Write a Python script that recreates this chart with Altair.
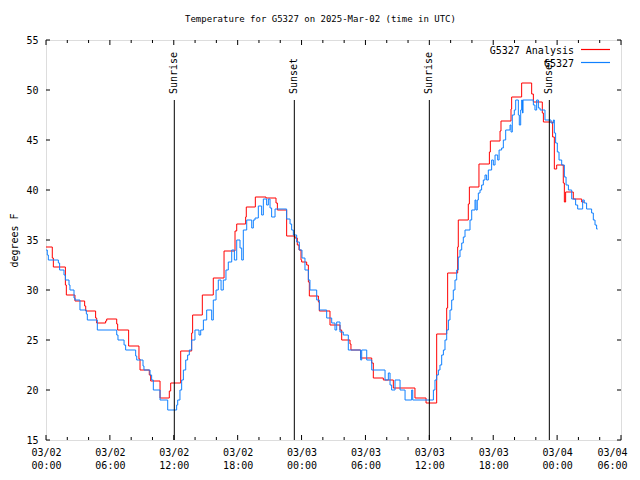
import altair as alt
import pandas as pd

# ---------------- data (hours since 2025-03-02 00:00 UTC, deg F) ----------------
RED_H = [0.0, 0.59, 0.69, 1.82, 1.91, 2.72, 3.63, 3.73, 4.66, 4.76, 5.60, 5.70, 6.64, 6.73,
         7.76, 8.73, 8.83, 9.70, 9.83, 10.71, 11.58, 11.71, 12.65, 13.68, 13.77, 14.68, 15.71,
         16.72, 17.75, 17.91, 18.75, 18.81, 19.66, 20.66, 21.60, 21.73, 22.60, 23.38, 23.60,
         23.76, 23.95, 24.01, 24.48, 24.64, 24.73, 25.58, 25.67, 26.67, 27.61, 27.77, 28.55,
         28.64, 29.55, 30.59, 30.74, 31.68, 32.62, 34.65, 35.69, 36.69, 37.63, 37.72, 38.66,
         38.72, 39.66, 39.76, 40.66, 41.64, 41.73, 42.64, 42.73, 43.67, 43.73, 44.67, 45.61,
         45.77, 46.61, 46.71, 47.58, 47.74, 47.96, 48.58, 48.68, 48.80, 49.52, 50.31, 50.55]
RED_T = [34.3, 33.2, 32.3, 30.5, 29.5, 28.9, 28.4, 27.9, 27.2, 26.7, 26.9, 27.1, 26.6, 26.0,
         24.4, 23.1, 22.0, 21.5, 20.9, 19.2, 19.9, 20.7, 23.9, 25.7, 27.5, 29.5, 31.2,
         33.9, 35.9, 36.6, 37.3, 38.3, 39.3, 39.2, 38.7, 38.0, 35.4, 35.2, 34.5,
         34.0, 33.0, 32.8, 32.5, 30.8, 29.4, 28.8, 27.9, 26.5, 26.0, 25.0, 24.6,
         24.0, 23.2, 22.7, 21.2, 21.0, 20.2, 19.2, 18.7, 25.6, 28.2, 31.7, 34.3,
         37.0, 38.6, 40.3, 42.6, 43.8, 44.9, 45.9, 46.9, 48.1, 49.3, 50.7, 49.6,
         48.8, 47.7, 46.8, 45.3, 42.1, 42.5, 40.7, 38.8, 39.8, 39.1, 38.8, 38.8]

BLUE_H = [0.00, 0.12, 0.22, 1.16, 1.28, 1.69, 1.82, 2.16, 2.25, 2.63, 2.72, 3.19, 3.79, 3.88,
          4.82, 6.64, 6.76, 7.33, 7.48, 8.42, 8.52, 9.11, 9.20, 9.77, 9.92, 10.08, 10.71, 11.43,
          12.27, 12.37, 12.58, 12.74, 12.90, 13.12, 13.30, 13.46, 13.68, 13.99, 14.37, 14.53,
          14.78, 15.09, 15.56, 15.71, 15.97, 16.18, 16.44, 16.65, 16.90, 17.12, 17.44, 17.69,
          17.91, 18.22, 18.38, 18.53, 18.85, 19.32, 19.47, 19.63, 19.94, 20.25, 20.41, 20.72,
          20.88, 21.04, 21.19, 21.51, 22.60, 22.92, 23.07, 23.23, 23.54, 23.79, 24.04, 24.32,
          24.64, 24.79, 25.42, 25.67, 26.36, 26.83, 27.14, 27.30, 27.61, 27.92, 28.39, 29.55,
          29.65, 30.12, 30.59, 31.84, 32.15, 32.31, 32.46, 32.78, 33.25, 33.72, 34.34, 34.44,
          36.38, 36.53, 36.69, 36.85, 37.00, 37.16, 37.32, 37.47, 37.63, 37.79, 37.94, 38.10,
          38.25, 38.41, 38.57, 38.72, 38.88, 39.04, 39.19, 39.35, 39.82, 39.98, 40.29, 40.38,
          40.50, 40.60, 40.76, 40.91, 41.07, 41.23, 41.38, 41.54, 41.85, 42.01, 42.17, 42.42,
          42.55, 42.79, 42.95, 43.17, 43.58, 43.67, 43.79, 43.98, 44.11, 44.36, 44.45, 44.58,
          44.67, 44.75, 44.80, 45.77, 45.92, 46.08, 46.24, 46.40, 46.86, 47.43, 47.65, 47.74,
          47.86, 48.02, 48.18, 48.43, 48.68, 48.84, 49.06, 49.37, 49.74, 49.93, 50.40, 50.55,
          50.77, 51.24, 51.40, 51.56, 51.71, 51.81]
BLUE_T = [34.0, 33.5, 33.0, 32.7, 32.0, 31.5, 31.0, 30.5, 30.0, 29.2, 29.0, 28.0, 27.6, 27.0,
          26.0, 25.5, 25.0, 24.5, 24.0, 23.4, 23.0, 22.4, 22.0, 21.5, 21.0, 20.0, 19.0, 18.0,
          18.5, 19.0, 20.0, 21.0, 22.0, 23.0, 23.5, 24.0, 25.0, 26.0, 25.5, 26.0,
          27.0, 28.0, 27.0, 29.0, 30.0, 31.0, 30.0, 31.0, 32.0, 32.8, 34.0, 33.0,
          35.0, 34.2, 33.0, 36.0, 37.0, 36.2, 37.0, 37.2, 38.4, 37.5, 39.1, 38.5,
          39.1, 38.2, 37.3, 38.1, 37.1, 36.6, 36.0, 35.5, 34.8, 34.0, 33.2, 32.0,
          31.0, 30.0, 29.0, 28.0, 27.2, 26.7, 26.0, 26.8, 25.8, 25.5, 24.0, 23.0,
          24.0, 23.0, 22.0, 21.0, 21.7, 20.5, 20.0, 21.0, 20.0, 19.0, 20.0, 19.0,
          20.0, 21.0, 21.5, 22.0, 22.5, 23.5, 24.0, 25.0, 26.0, 27.0, 28.0, 29.0,
          30.0, 31.0, 32.0, 33.3, 34.0, 34.7, 35.3, 36.0, 37.0, 38.0, 39.0, 38.0,
          39.0, 39.7, 40.0, 40.5, 41.0, 41.5, 41.0, 42.0, 43.0, 42.5, 43.5, 43.0,
          44.0, 44.2, 45.0, 46.0, 46.5, 45.8, 47.5, 48.0, 49.0, 47.5, 46.5, 48.0,
          49.0, 47.7, 49.0, 48.5, 48.0, 49.0, 48.2, 48.0, 47.0, 46.7, 47.0, 45.7,
          44.7, 43.8, 43.0, 42.5, 41.3, 40.5, 40.0, 39.1, 38.5, 38.1, 39.0, 38.7,
          38.1, 37.7, 37.0, 36.5, 36.1, 36.1]

EVENT_H = [12.05, 23.32, 36.0, 47.27]
EVENT_LABEL = ["Sunrise", "Sunset", "Sunrise", "Sunset"]

X_TICKS = [0, 6, 12, 18, 24, 30, 36, 42, 48, 54]
X_LABELS = [["03/02", "00:00"], ["03/02", "06:00"], ["03/02", "12:00"], ["03/02", "18:00"],
            ["03/03", "00:00"], ["03/03", "06:00"], ["03/03", "12:00"], ["03/03", "18:00"],
            ["03/04", "00:00"], ["03/04", "06:00"]]
X_MINOR = [2, 4, 8, 10, 14, 16, 20, 22, 26, 28, 32, 34, 38, 40, 44, 46, 50, 52]
Y_TICKS = [15, 20, 25, 30, 35, 40, 45, 50, 55]

TITLE = "Temperature for G5327 on 2025-Mar-02 (time in UTC)"
SERIES = ["G5327 Analysis", "G5327"]
COLORS = ["#ff0000", "#1080ff"]

# ---------------- chart ----------------
W, H = 575, 400
FONT = "DejaVu Sans Mono"

red_df = pd.DataFrame({"h": RED_H, "t": RED_T})
blue_df = pd.DataFrame({"h": BLUE_H, "t": BLUE_T})
ev_df = pd.DataFrame({"h": EVENT_H, "label": EVENT_LABEL})
xt_df = pd.DataFrame({"h": X_TICKS})
xm_df = pd.DataFrame({"h": X_MINOR})
yt_df = pd.DataFrame({"t": Y_TICKS})
one = pd.DataFrame({"a": [0]})

xs = alt.Scale(domain=[0, 54], nice=False, zero=False)
ys = alt.Scale(domain=[15, 55], nice=False, zero=False)

label_expr = "[" + ",".join("['%s','%s']" % (a, b) for a, b in X_LABELS) + "][round(datum.value/6)]"

x_axis = alt.Axis(values=X_TICKS, labelExpr=label_expr, ticks=False, domain=False, grid=False,
                  title=None, labelFont=FONT, labelFontSize=10, labelColor="black",
                  labelPadding=7, labelLineHeight=13, labelAngle=0, labelFlush=False,
                  labelOverlap=False, labelBound=False,
                  labelOffset={"condition": {"test": "datum.value == 54", "value": -9}, "value": 0})
y_axis = alt.Axis(values=Y_TICKS, ticks=False, domain=False, grid=False, title="degrees F",
                  labelFont=FONT, labelFontSize=10, labelColor="black", labelPadding=8,
                  titleFont=FONT, titleFontSize=10, titleFontWeight="normal", titleColor="black",
                  titlePadding=6, labelFlush=False, labelOverlap=False)

red = alt.Chart(red_df).mark_line(interpolate="step-after", color=COLORS[0], strokeWidth=1).encode(
    x=alt.X("h:Q", scale=xs, axis=x_axis),
    y=alt.Y("t:Q", scale=ys, axis=y_axis),
)
blue = alt.Chart(blue_df).mark_line(interpolate="step-after", color=COLORS[1], strokeWidth=1).encode(
    x=alt.X("h:Q", scale=xs),
    y=alt.Y("t:Q", scale=ys),
)

ev_rules = alt.Chart(ev_df).mark_rule(color="black", strokeWidth=1).encode(
    x=alt.X("h:Q", scale=xs),
    y=alt.datum(49, scale=ys),
    y2=alt.datum(15),
)
ev_text = alt.Chart(ev_df).mark_text(angle=270, align="left", baseline="middle", font=FONT,
                                      fontSize=10, color="black").encode(
    x=alt.X("h:Q", scale=xs),
    y=alt.datum(49.6, scale=ys),
    text="label:N",
)

def xticks(df, ln):
    bot = alt.Chart(df).mark_rule(color="black", strokeWidth=1).encode(
        x=alt.X("h:Q", scale=xs), y=alt.value(H), y2=alt.value(H - ln))
    top = alt.Chart(df).mark_rule(color="black", strokeWidth=1).encode(
        x=alt.X("h:Q", scale=xs), y=alt.value(0), y2=alt.value(ln))
    return bot + top

yl = alt.Chart(yt_df).mark_rule(color="black", strokeWidth=1).encode(
    y=alt.Y("t:Q", scale=ys), x=alt.value(0), x2=alt.value(4))
yr = alt.Chart(yt_df).mark_rule(color="black", strokeWidth=1).encode(
    y=alt.Y("t:Q", scale=ys), x=alt.value(W - 4), x2=alt.value(W))

leg = []
for i, (name, col) in enumerate(zip(SERIES, COLORS)):
    yy = 10 + 13 * i
    leg.append(alt.Chart(one).mark_text(align="right", baseline="middle", font=FONT, fontSize=10,
                                        color="black").encode(
        x=alt.value(528), y=alt.value(yy + 0.5), text=alt.value(name)))
    leg.append(alt.Chart(one).mark_rule(color=col, stroke=col, strokeWidth=1.2).encode(
        x=alt.value(535), x2=alt.value(564), y=alt.value(yy - 0.5)))

chart = alt.layer(
    red, blue, ev_rules, ev_text, xticks(xt_df, 5), xticks(xm_df, 3), yl, yr, *leg
).properties(
    width=W, height=H,
    title=alt.TitleParams(TITLE, font=FONT, fontSize=9, fontWeight="normal", anchor="middle",
                          offset=11, dx=-13, color="black"),
    autosize=alt.AutoSizeParams(type="none"),
    padding={"left": 38, "top": 32, "right": 11, "bottom": 32},
).configure_view(
    stroke="black", strokeWidth=1
).configure(background="white")

chart.save("out.html", embed_options={"renderer": "svg", "actions": False})
